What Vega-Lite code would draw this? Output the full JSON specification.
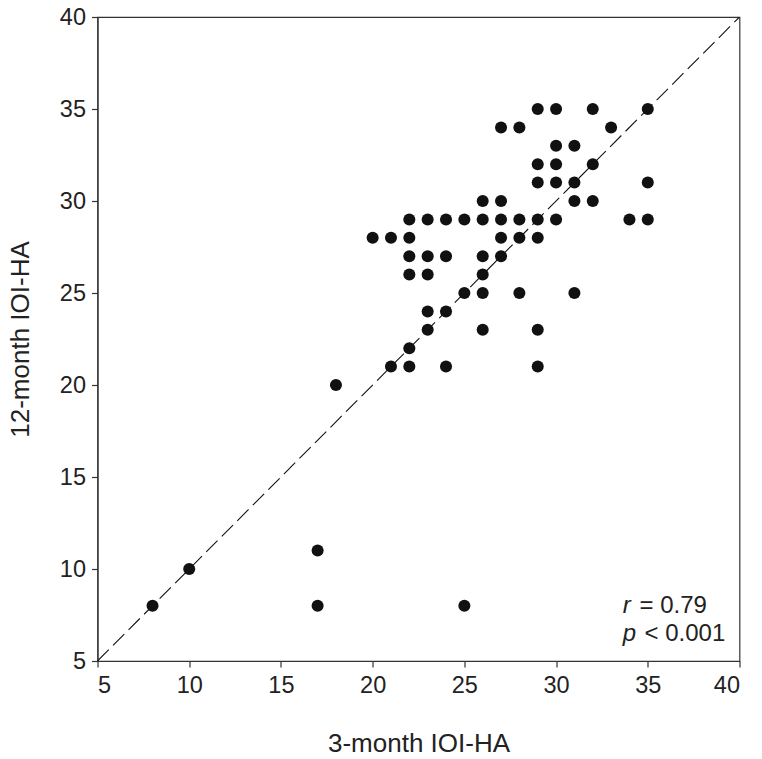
{
  "$schema": "https://vega.github.io/schema/vega-lite/v6.json",
  "width": 642,
  "height": 644,
  "autosize": {"type": "none"},
  "padding": {"left": 97.5, "top": 17, "right": 22, "bottom": 98},
  "background": "white",
  "config": {
    "view": {"stroke": "#333333", "strokeWidth": 1.2},
    "font": "Liberation Sans",
    "axis": {
      "grid": false,
      "domainColor": "#333333",
      "domainWidth": 1.2,
      "tickColor": "#333333",
      "tickWidth": 1.2,
      "tickSize": 6,
      "labelFont": "Liberation Sans",
      "labelFontSize": 23.5,
      "labelColor": "#222222",
      "labelPadding": 6,
      "titleFont": "Liberation Sans",
      "titleFontSize": 26,
      "titleFontWeight": "normal",
      "titleColor": "#222222"
    }
  },
  "datasets": {
    "pts": [
      {"x": 29, "y": 35}, {"x": 30, "y": 35}, {"x": 32, "y": 35}, {"x": 35, "y": 35},
      {"x": 27, "y": 34}, {"x": 28, "y": 34}, {"x": 33, "y": 34},
      {"x": 30, "y": 33}, {"x": 31, "y": 33},
      {"x": 29, "y": 32}, {"x": 30, "y": 32}, {"x": 32, "y": 32},
      {"x": 29, "y": 31}, {"x": 30, "y": 31}, {"x": 31, "y": 31}, {"x": 35, "y": 31},
      {"x": 26, "y": 30}, {"x": 27, "y": 30}, {"x": 31, "y": 30}, {"x": 32, "y": 30},
      {"x": 22, "y": 29}, {"x": 23, "y": 29}, {"x": 24, "y": 29}, {"x": 25, "y": 29}, {"x": 26, "y": 29}, {"x": 27, "y": 29}, {"x": 28, "y": 29}, {"x": 29, "y": 29}, {"x": 30, "y": 29}, {"x": 34, "y": 29}, {"x": 35, "y": 29},
      {"x": 20, "y": 28}, {"x": 21, "y": 28}, {"x": 22, "y": 28}, {"x": 27, "y": 28}, {"x": 28, "y": 28}, {"x": 29, "y": 28},
      {"x": 22, "y": 27}, {"x": 23, "y": 27}, {"x": 24, "y": 27}, {"x": 26, "y": 27}, {"x": 27, "y": 27},
      {"x": 22, "y": 26}, {"x": 23, "y": 26}, {"x": 26, "y": 26},
      {"x": 25, "y": 25}, {"x": 26, "y": 25}, {"x": 28, "y": 25}, {"x": 31, "y": 25},
      {"x": 23, "y": 24}, {"x": 24, "y": 24},
      {"x": 23, "y": 23}, {"x": 26, "y": 23}, {"x": 29, "y": 23},
      {"x": 22, "y": 22},
      {"x": 21, "y": 21}, {"x": 22, "y": 21}, {"x": 24, "y": 21}, {"x": 29, "y": 21},
      {"x": 18, "y": 20},
      {"x": 17, "y": 11},
      {"x": 10, "y": 10},
      {"x": 8, "y": 8}, {"x": 17, "y": 8}, {"x": 25, "y": 8}
    ],
    "diag": [{"x": 5, "y": 5}, {"x": 40, "y": 40}],
    "annot": [
      {"sx": 33.63, "rx": 34.55, "y": 7.61, "sym": "r", "rest": "= 0.79"},
      {"sx": 33.63, "rx": 34.82, "y": 6.09, "sym": "p", "rest": "< 0.001"}
    ]
  },
  "layer": [
    {
      "data": {"name": "diag"},
      "mark": {"type": "line", "color": "#111111", "strokeWidth": 1.1, "strokeDash": [16, 6], "clip": true},
      "encoding": {
        "x": {"field": "x", "type": "quantitative", "scale": {"domain": [5, 40], "nice": false, "zero": false},
              "axis": {"values": [5, 10, 15, 20, 25, 30, 35, 40], "title": "3-month IOI-HA", "titlePadding": 34}},
        "y": {"field": "y", "type": "quantitative", "scale": {"domain": [5, 40], "nice": false, "zero": false},
              "axis": {"values": [5, 10, 15, 20, 25, 30, 35, 40], "title": "12-month IOI-HA", "titlePadding": 26}}
      }
    },
    {
      "data": {"name": "pts"},
      "mark": {"type": "circle", "size": 145, "color": "#111111", "opacity": 1},
      "encoding": {
        "x": {"field": "x", "type": "quantitative"},
        "y": {"field": "y", "type": "quantitative"}
      }
    },
    {
      "data": {"name": "annot"},
      "mark": {"type": "text", "fontSize": 24, "fontStyle": "italic", "align": "left", "baseline": "alphabetic", "color": "#222222"},
      "encoding": {
        "x": {"field": "sx", "type": "quantitative"},
        "y": {"field": "y", "type": "quantitative"},
        "text": {"field": "sym"}
      }
    },
    {
      "data": {"name": "annot"},
      "mark": {"type": "text", "fontSize": 24, "align": "left", "baseline": "alphabetic", "color": "#222222"},
      "encoding": {
        "x": {"field": "rx", "type": "quantitative"},
        "y": {"field": "y", "type": "quantitative"},
        "text": {"field": "rest"}
      }
    }
  ]
}
